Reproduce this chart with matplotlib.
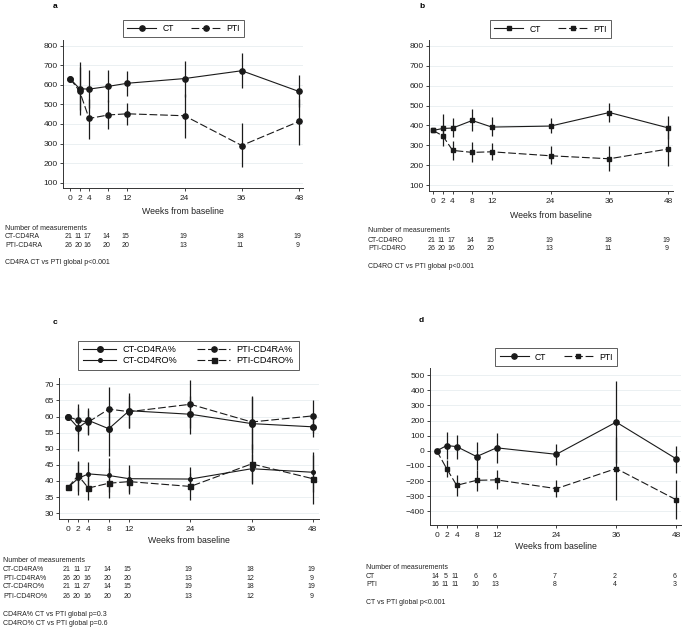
import matplotlib
matplotlib.use("Agg")
import matplotlib.pyplot as plt
from matplotlib.transforms import blended_transform_factory

plt.rcParams['font.family'] = ['Liberation Sans', 'DejaVu Sans']

weeks = [0, 2, 4, 8, 12, 24, 36, 48]
week_labels = ['0', '2', '4', '8', '12', '24', '36', '48']

# panel a: CD4RA
a_ct = [632, 580, 578, 592, 608, 632, 672, 566]
a_ct_lo = [632, 445, 480, 510, 545, 540, 582, 485]
a_ct_hi = [632, 718, 678, 675, 672, 722, 762, 648]
a_pti = [632, 568, 428, 446, 452, 442, 290, 413]
a_pti_lo = [632, 470, 325, 372, 395, 330, 178, 295]
a_pti_hi = [632, 690, 530, 520, 505, 555, 403, 530]
a_n_ct = [21, 11, 17, 14, 15, 19, 18, 19]
a_n_pti = [26, 20, 16, 20, 20, 13, 11, 9]

# panel b: CD4RO
b_ct = [375, 385, 387, 425, 392, 397, 465, 388]
b_ct_lo = [375, 330, 340, 370, 345, 360, 418, 330]
b_ct_hi = [375, 460, 437, 483, 440, 435, 515, 450]
b_pti = [375, 348, 275, 265, 268, 248, 233, 282]
b_pti_lo = [375, 295, 228, 215, 228, 205, 172, 195]
b_pti_hi = [375, 400, 322, 315, 310, 295, 298, 372]
b_n_ct = [21, 11, 17, 14, 15, 19, 18, 19]
b_n_pti = [26, 20, 16, 20, 20, 13, 11, 9]

# panel c: percentages
c_ct_ra = [60, 56.5, 58.8, 56.2, 61.8, 60.7, 57.8, 56.8]
c_ct_ra_lo = [60, 49.3, 54.5, 47.8, 56.5, 54.7, 48.7, 53.5]
c_ct_ra_hi = [60, 62.5, 62.7, 63.0, 67.2, 66.5, 66.5, 60.5]
c_pti_ra = [60, 58.8, 58.3, 62.3, 61.5, 63.8, 58.3, 60.2]
c_pti_ra_lo = [60, 54.5, 54.2, 55.5, 56.3, 56.5, 50.0, 55.0]
c_pti_ra_hi = [60, 64.0, 62.0, 69.2, 66.5, 71.3, 66.0, 65.2]
c_ct_ro = [38, 40.8, 42.2, 41.7, 40.7, 40.6, 43.8, 42.7]
c_ct_ro_lo = [38, 35.5, 38.5, 36.5, 36.5, 37.0, 39.0, 36.5]
c_ct_ro_hi = [38, 46.0, 45.8, 47.1, 45.0, 44.2, 48.5, 48.9]
c_pti_ro = [38, 41.7, 37.8, 39.3, 39.8, 38.3, 45.3, 40.7]
c_pti_ro_lo = [38, 37.0, 34.2, 34.8, 36.0, 34.0, 39.5, 32.7]
c_pti_ro_hi = [38, 46.3, 41.5, 44.0, 43.5, 42.5, 51.4, 48.0]
c_n_ct_ra = [21, 11, 17, 14, 15, 19, 18, 19]
c_n_pti_ra = [26, 20, 16, 20, 20, 13, 12, 9]
c_n_ct_ro = [21, 11, 27, 14, 15, 19, 18, 19]
c_n_pti_ro = [26, 20, 16, 20, 20, 13, 12, 9]

# panel d: change from baseline
d_ct = [0, 35, 28, -38, 20, -23, 190, -52]
d_ct_lo = [0, -55, -55, -130, -80, -95, -80, -145]
d_ct_hi = [0, 125, 108, 58, 120, 48, 465, 35]
d_pti = [0, -118, -228, -195, -192, -250, -117, -323]
d_pti_lo = [0, -175, -300, -268, -250, -305, -325, -450]
d_pti_hi = [0, -60, -160, -130, -130, -195, 90, -195]
d_n_ct = [14, 5, 11, 6, 6, 7, 2, 6]
d_n_pti = [16, 11, 11, 10, 13, 8, 4, 3]

W, H = 686, 632
fig = plt.figure(figsize=(W / 100, H / 100), dpi=100)
LC = '#1a1a1a'
TC = '#222222'
DASH = (7, 2.5)
TAB_FS = 5.0


def make_ax(l, r, t, b, xlim, ylim, yticks):
    ax = fig.add_axes([l / W, 1 - b / H, (r - l) / W, (b - t) / H])
    ax.set_xlim(*xlim)
    ax.set_ylim(*ylim)
    ax.set_xticks(weeks)
    ax.set_xticklabels(week_labels)
    ax.set_yticks(yticks)
    for s in ['top', 'right']:
        ax.spines[s].set_visible(False)
    for s in ['left', 'bottom']:
        ax.spines[s].set_linewidth(0.7)
        ax.spines[s].set_color('#333333')
    ax.tick_params(labelsize=6.0, length=2.2, width=0.6, pad=1.5, colors=TC)
    ax.tick_params(axis='x', pad=2.8)
    ax.grid(axis='y', color='#e8eef0', linewidth=0.6)
    ax.set_axisbelow(True)
    ax.set_xlabel('Weeks from baseline', fontsize=6.3, labelpad=0, color=TC)
    return ax


def series(ax, y, lo, hi, marker, ms, dashed, label):
    ax.vlines(weeks, lo, hi, color=LC, linewidth=0.9)
    ln, = ax.plot(weeks, y, color=LC, linewidth=0.8, marker=marker,
                  markersize=ms, label=label)
    if dashed:
        ln.set_dashes(DASH)
    return ln


def table(ax, x_label, rows, ys, ptexts, pys):
    tr = blended_transform_factory(ax.transData, fig.transFigure)
    fig.text(x_label / W, 1 - ys[0] / H, 'Number of measurements',
             fontsize=TAB_FS, va='center', color=TC)
    for (name, vals), yy in zip(rows, ys[1:]):
        fig.text(x_label / W, 1 - yy / H, name, fontsize=TAB_FS, va='center',
                 color=TC)
        for w, v in zip(weeks, vals):
            ax.text(w - 0.3, 1 - yy / H, str(v), transform=tr, fontsize=TAB_FS,
                    ha='center', va='center', color=TC)
    for t, yy in zip(ptexts, pys):
        fig.text(x_label / W, 1 - yy / H, t, fontsize=TAB_FS, va='center',
                 color=TC)


def legend(ax, cx, cy, handles=None, fs=6.2, hl=3.4, cs=2.0):
    kw = {} if handles is None else {'handles': handles}
    lg = ax.legend(loc='center', bbox_to_anchor=(cx / W, 1 - cy / H),
                   bbox_transform=fig.transFigure, ncol=2, fontsize=fs,
                   frameon=True, fancybox=False, handlelength=hl,
                   columnspacing=cs, handletextpad=0.7, borderpad=0.5,
                   labelspacing=0.2, borderaxespad=0, **kw)
    lg.get_frame().set_edgecolor('#333333')
    lg.get_frame().set_linewidth(0.7)


# a
ax = make_ax(63, 303, 40, 188.3, (-1.47, 48.84), (71.4, 829),
             [100, 200, 300, 400, 500, 600, 700, 800])
series(ax, a_ct, a_ct_lo, a_ct_hi, 'o', 3.8, False, 'CT')
series(ax, a_pti, a_pti_lo, a_pti_hi, 'o', 3.8, True, 'PTI')
legend(ax, 183.5, 28.5)
ax.xaxis.set_label_coords(0.5, -0.125)
table(ax, 5, [('CT-CD4RA', a_n_ct), ('PTI-CD4RA', a_n_pti)],
      [228.3, 236.7, 245.3], ['CD4RA CT vs PTI global p<0.001'], [262])
fig.text(53 / W, 1 - 6 / H, 'a', fontsize=6, fontweight='bold', va='center')

# b
ax = make_ax(429, 673, 40, 191, (-0.82, 49.0), (71.4, 828.6),
             [100, 200, 300, 400, 500, 600, 700, 800])
series(ax, b_ct, b_ct_lo, b_ct_hi, 's', 3.4, False, 'CT')
series(ax, b_pti, b_pti_lo, b_pti_hi, 's', 3.4, True, 'PTI')
legend(ax, 550.5, 29)
ax.xaxis.set_label_coords(0.5, -0.135)
table(ax, 368, [('CT-CD4RO', b_n_ct), ('PTI-CD4RO', b_n_pti)],
      [231, 240, 248.7], ['CD4RO CT vs PTI global p<0.001'], [266.7])
fig.text(419 / W, 1 - 6 / H, 'b', fontsize=6, fontweight='bold', va='center')

# c
ax = make_ax(59, 319, 378, 519, (-1.76, 49.2), (28.2, 71.95),
             [30, 35, 40, 45, 50, 55, 60, 65, 70])
h1 = series(ax, c_ct_ra, c_ct_ra_lo, c_ct_ra_hi, 'o', 4.0, False, 'CT-CD4RA%')
h2 = series(ax, c_pti_ra, c_pti_ra_lo, c_pti_ra_hi, 'o', 3.8, True, 'PTI-CD4RA%')
h3 = series(ax, c_ct_ro, c_ct_ro_lo, c_ct_ro_hi, 'o', 2.6, False, 'CT-CD4RO%')
h4 = series(ax, c_pti_ro, c_pti_ro_lo, c_pti_ro_hi, 's', 3.6, True, 'PTI-CD4RO%')
legend(ax, 188.5, 355, handles=[h1, h3, h2, h4], fs=6.6, hl=3.6, cs=2.2)
ax.xaxis.set_label_coords(0.5, -0.12)
table(ax, 3, [('CT-CD4RA%', c_n_ct_ra), ('PTI-CD4RA%', c_n_pti_ra),
              ('CT-CD4RO%', c_n_ct_ro), ('PTI-CD4RO%', c_n_pti_ro)],
      [560.7, 569.3, 578.3, 586.7, 596],
      ['CD4RA% CT vs PTI global p=0.3', 'CD4RO% CT vs PTI global p=0.6'],
      [614.7, 623.3])
fig.text(53 / W, 1 - 322 / H, 'c', fontsize=6, fontweight='bold', va='center')

# d
ax = make_ax(430, 681, 368, 524.7, (-1.35, 49.0), (-488.6, 548),
             [-400, -300, -200, -100, 0, 100, 200, 300, 400, 500])
series(ax, d_ct, d_ct_lo, d_ct_hi, 'o', 3.8, False, 'CT')
series(ax, d_pti, d_pti_lo, d_pti_hi, 's', 3.4, True, 'PTI')
legend(ax, 556, 357)
ax.xaxis.set_label_coords(0.5, -0.11)
table(ax, 366, [('CT', d_n_ct), ('PTI', d_n_pti)],
      [567.7, 576, 584.7], ['CT vs PTI global p<0.001'], [602])
fig.text(419 / W, 1 - 320 / H, 'd', fontsize=6, fontweight='bold', va='center')

fig.savefig('out.png', dpi=100, facecolor='white')
